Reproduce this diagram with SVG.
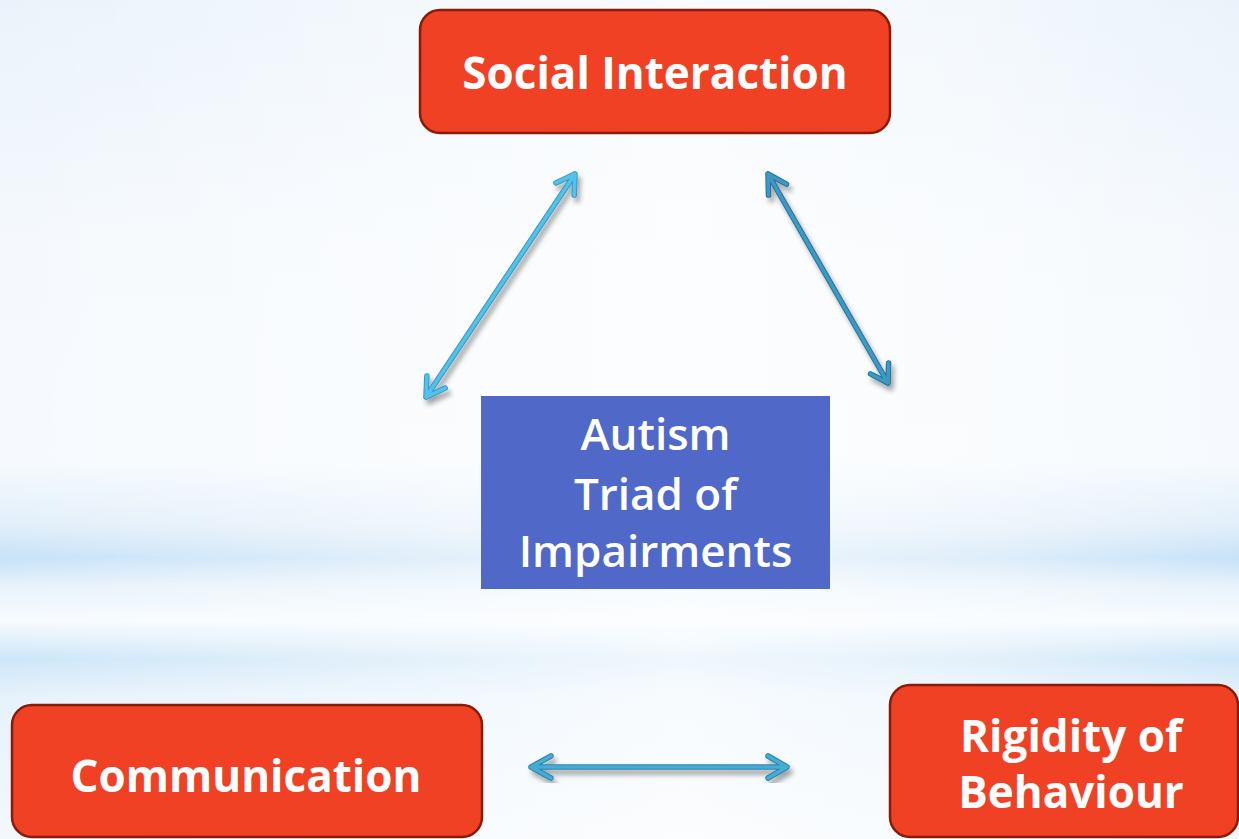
<svg xmlns="http://www.w3.org/2000/svg" width="1239" height="839" viewBox="0 0 1239 839">
  <defs>
    <linearGradient id="bgV" x1="0" y1="0" x2="0" y2="1">
      <stop offset="0" stop-color="#EAF3FB"/>
      <stop offset="0.3" stop-color="#F5F9FD"/>
      <stop offset="0.55" stop-color="#F6FAFE"/>
      <stop offset="0.625" stop-color="#E2EFFA"/>
      <stop offset="0.665" stop-color="#C8E2F7"/>
      <stop offset="0.7" stop-color="#E8F3FC"/>
      <stop offset="0.74" stop-color="#F7FBFE"/>
      <stop offset="0.785" stop-color="#CEE6F8"/>
      <stop offset="0.83" stop-color="#E6F2FC"/>
      <stop offset="1" stop-color="#F3F8FD"/>
    </linearGradient>
    <linearGradient id="bgH" x1="0" y1="0" x2="1" y2="0">
      <stop offset="0" stop-color="#FFFFFF" stop-opacity="0"/>
      <stop offset="0.3" stop-color="#FFFFFF" stop-opacity="0.4"/>
      <stop offset="0.55" stop-color="#FFFFFF" stop-opacity="0.7"/>
      <stop offset="0.8" stop-color="#FFFFFF" stop-opacity="0.4"/>
      <stop offset="1" stop-color="#FFFFFF" stop-opacity="0"/>
    </linearGradient>
    <filter id="shadow" x="-20%" y="-20%" width="140%" height="140%">
      <feDropShadow dx="3" dy="5" stdDeviation="2.5" flood-color="#000000" flood-opacity="0.35"/>
    </filter>
    <style>
      .red { fill: #F04125; stroke: #8A1B0B; stroke-width: 2.5; }
      .blue { fill: #5068C8; }
      .lbl { font-family: "Open Sans", "Noto Sans", "DejaVu Sans", sans-serif; font-weight: 700; font-size: 44px; fill: #FFFFFF; text-anchor: middle; }
      .ctr { font-weight: 600; }
      .arr { fill: none; stroke-linecap: round; stroke-linejoin: round; }
      .edge { stroke-width: 5.5; }
      .core { stroke-width: 3.6; }
    </style>
  </defs>

  <rect x="0" y="0" width="1239" height="839" fill="url(#bgV)"/>
  <rect x="0" y="0" width="1239" height="839" fill="url(#bgH)"/>

  <g id="connectors">
    <g filter="url(#shadow)">
      <path class="arr edge" stroke="#2C98C4" d="M426,397 L575,174 M555.9,182.9 L575,174 L574.2,195.1 M426.9,375.9 L426,397 L445.2,388.1"/>
      <path class="arr core" stroke="#55C0E8" d="M426,397 L575,174 M555.9,182.9 L575,174 L574.2,195.1 M426.9,375.9 L426,397 L445.2,388.1"/>
    </g>
    <g filter="url(#shadow)">
      <path class="arr edge" stroke="#236F97" d="M768,174 L888,383 M786.5,184.1 L768,174 L768.5,195.1 M888.6,362.9 L888,383 L870.5,373.9"/>
      <path class="arr core" stroke="#3C98C2" d="M768,174 L888,383 M786.5,184.1 L768,174 L768.5,195.1 M888.6,362.9 L888,383 L870.5,373.9"/>
    </g>
    <g filter="url(#shadow)">
      <path class="arr edge" stroke="#2A85AE" d="M531,767 L787,767 M768,756 L787,767 L768,778 M551,756 L531,767 L551,778"/>
      <path class="arr core" stroke="#46ACD4" d="M531,767 L787,767 M768,756 L787,767 L768,778 M551,756 L531,767 L551,778"/>
    </g>
  </g>

  <g id="node-social">
    <rect class="red" x="420" y="10" width="470" height="123" rx="20" ry="20"/>
    <text class="lbl" x="655" y="89">Social Interaction</text>
  </g>

  <g id="node-center">
    <rect class="blue" x="481" y="396" width="349" height="193"/>
    <text class="lbl ctr" x="655.5" y="450">Autism</text>
    <text class="lbl ctr" x="655.5" y="510">Triad of</text>
    <text class="lbl ctr" x="655.5" y="567">Impairments</text>
  </g>

  <g id="node-communication">
    <rect class="red" x="12" y="705" width="470" height="132" rx="20" ry="20"/>
    <text class="lbl" x="246" y="792">Communication</text>
  </g>

  <g id="node-rigidity">
    <rect class="red" x="890" y="685" width="348" height="152" rx="20" ry="20"/>
    <text class="lbl" x="1071" y="752">Rigidity of</text>
    <text class="lbl" x="1071" y="808">Behaviour</text>
  </g>
</svg>
